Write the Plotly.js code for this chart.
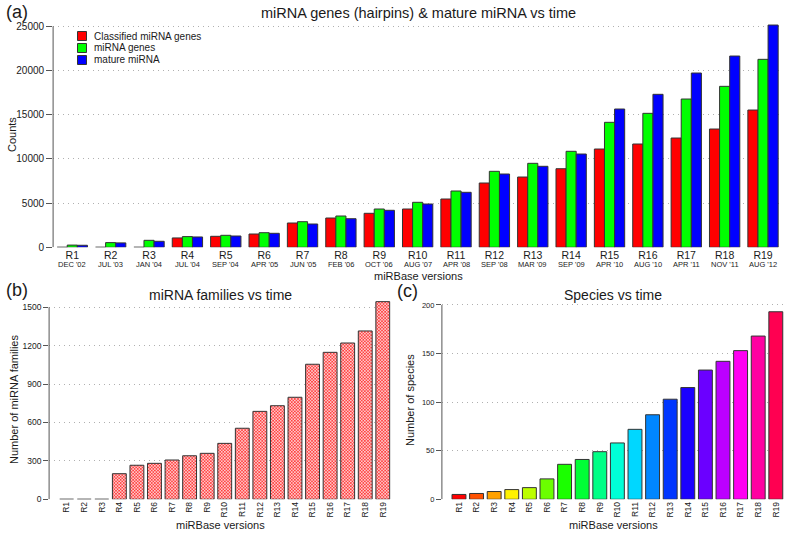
<!DOCTYPE html>
<html>
<head>
<meta charset="utf-8">
<script src="https://cdn.plot.ly/plotly-3.0.1.min.js"></script>
<style>html,body{margin:0;padding:0;background:#fff;}#chart{width:788px;height:533px;}</style>
</head>
<body>
<div id="chart"></div>
<script>
// ---------- data ----------
const versions = ['R1','R2','R3','R4','R5','R6','R7','R8','R9','R10','R11','R12','R13','R14','R15','R16','R17','R18','R19'];
const releaseDates = ["DEC '02","JUL '03","JAN '04","JUL '04","SEP '04","APR '05","JUN '05","FEB '06","OCT '06","AUG '07","APR '08","SEP '08","MAR '09","SEP '09","APR '10","AUG '10","APR '11","NOV '11","AUG '12"];
const classifiedGenes = [0,0,0,1060,1244,1505,2749,3314,3846,4333,5464,7274,7952,8891,11120,11686,12364,13382,15532];
const mirnaGenes = [250,530,790,1210,1357,1652,2896,3541,4333,5090,6369,8597,9502,10860,14140,15158,16776,18212,21267];
const matureMirna = [230,500,680,1170,1278,1584,2636,3235,4186,4898,6222,8292,9163,10554,15645,17308,19717,21640,25147];
const mirnaFamilies = [0,0,0,200,266,281,307,340,359,437,555,687,731,797,1055,1148,1221,1315,1544];
const speciesCount = [5,6,8,10,12,21,36,41,49,58,72,87,103,115,133,142,153,168,193];

const seriesNames = ['Classified miRNA genes','miRNA genes','mature miRNA'];
const seriesColors = ['#FF0000','#00FF00','#0000FF'];
const countsTicks = [0,5000,10000,15000,20000,25000];
const familyTicks = [0,300,600,900,1200,1500];
const speciesTicks = [0,50,100,150,200];

// ---------- helpers ----------
const W = 788, H = 533;
const px = x => x / W;
const py = y => 1 - y / H;
const FONT = 'Liberation Sans, Arial, sans-serif';
const TXT = '#1a1a1a';
const EDGE = '#333333';

// R rainbow(n)
function rainbow(n){
  const out = [];
  for(let i=0;i<n;i++){
    const h = i/n*6; const k = Math.floor(h); const f = h-k;
    let r,g,b;
    switch(k){
      case 0: r=1; g=f; b=0; break;
      case 1: r=1-f; g=1; b=0; break;
      case 2: r=0; g=1; b=f; break;
      case 3: r=0; g=1-f; b=1; break;
      case 4: r=f; g=0; b=1; break;
      default: r=1; g=0; b=1-f;
    }
    out.push('rgb('+Math.round(r*255)+','+Math.round(g*255)+','+Math.round(b*255)+')');
  }
  return out;
}

const topSeries = [classifiedGenes, mirnaGenes, matureMirna];
const traces = topSeries.map((vals,i)=>({
  type:'bar', x: versions, y: vals, name: seriesNames[i],
  xaxis:'x', yaxis:'y', showlegend:false,
  marker:{color: seriesColors[i], line:{color: EDGE, width:1}},
  hoverinfo:'x+y+name'
}));
traces.push({
  type:'bar', x: versions, y: mirnaFamilies, name:'miRNA families',
  xaxis:'x2', yaxis:'y2', showlegend:false,
  marker:{color:'#ffffff', pattern:{shape:'x', fgcolor:'#ff3535', bgcolor:'#ffffff', size:2.2, solidity:0.6}, line:{color: EDGE, width:1}}
});
traces.push({
  type:'bar', x: versions, y: speciesCount, name:'Species',
  xaxis:'x3', yaxis:'y3', showlegend:false,
  marker:{color: rainbow(versions.length), line:{color: EDGE, width:1}}
});

const gridStyle = {showgrid:true, gridcolor:'#b0b0b0', gridwidth:1, griddash:'1px,4px'};

// domains (pixel based)
const A = {x0:53.1, x1:782.2, yBottom:247.3, yTop:17.5};
const B = {x0:49.1, x1:390.7, yBottom:499.3, yTop:293.2};
const C = {x0:441.9, x1:784.6, yBottom:499.3, yTop:300.1};

const layout = {
  width: W, height: H,
  margin:{l:0,r:0,t:0,b:0},
  paper_bgcolor:'#ffffff', plot_bgcolor:'#ffffff',
  font:{family: FONT, color: TXT},
  showlegend:false,
  barmode:'group',
  bargap: 0.21, bargroupgap: 0,
  xaxis:{domain:[px(A.x0), px(A.x1)], type:'category', range:[-0.5, 18.5],
    tickvals: versions, ticktext: versions,
    ticks:'', showline:false, showgrid:false, zeroline:false,
    tickfont:{size:10.5, color:TXT}, anchor:'y', fixedrange:true},
  yaxis:Object.assign({domain:[py(A.yBottom), py(A.yTop)], range:[0, 26000],
    tickvals: countsTicks, ticktext: countsTicks.map(String),
    ticks:'outside', ticklen:6, tickcolor:'#555', showline:false, zeroline:false,
    tickfont:{size:10, color:TXT}, anchor:'x', fixedrange:true}, gridStyle),
  xaxis2:{domain:[px(B.x0), px(B.x1)], type:'category', range:[-1, 18.45],
    tickvals: versions, ticktext: versions, tickangle:-90,
    ticks:'', showline:false, showgrid:false, zeroline:false,
    tickfont:{size:8.5, color:TXT}, anchor:'y2', fixedrange:true},
  yaxis2:Object.assign({domain:[py(B.yBottom), py(B.yTop)], range:[0, 1610],
    tickvals: familyTicks, ticktext: familyTicks.map(String),
    ticks:'outside', ticklen:5, tickcolor:'#555', showline:false, zeroline:false,
    tickfont:{size:8.5, color:TXT}, anchor:'x2', fixedrange:true}, gridStyle),
  xaxis3:{domain:[px(C.x0), px(C.x1)], type:'category', range:[-0.97, 18.5],
    tickvals: versions, ticktext: versions, tickangle:-90,
    ticks:'', showline:false, showgrid:false, zeroline:false,
    tickfont:{size:8.5, color:TXT}, anchor:'y3', fixedrange:true},
  yaxis3:Object.assign({domain:[py(C.yBottom), py(C.yTop)], range:[0, 205],
    tickvals: speciesTicks, ticktext: speciesTicks.map(String),
    ticks:'outside', ticklen:5, tickcolor:'#555', showline:false, zeroline:false,
    tickfont:{size:7.5, color:TXT}, anchor:'x3', fixedrange:true}, gridStyle),
  shapes: [],
  annotations: []
};

// R-style axis lines that stop at the last tick
[['x domain','y',countsTicks],['x2 domain','y2',familyTicks],['x3 domain','y3',speciesTicks]].forEach(([xr,yr,t])=>{
  layout.shapes.push({type:'line', xref:xr, yref:yr, x0:0, x1:0, y0:t[0], y1:t[t.length-1], line:{color:'#555', width:1}, layer:'above'});
});

// release dates under the version labels (panel a)
versions.forEach((v,i)=>{
  layout.annotations.push({xref:'x', yref:'paper', x:v, y:py(264.5), text:releaseDates[i], showarrow:false,
    xanchor:'center', yanchor:'middle', font:{size:7.5, color:TXT}});
});

// legend (panel a)
const legendRows = [36, 48, 60];
seriesNames.forEach((n,i)=>{
  const cy = legendRows[i];
  layout.shapes.push({type:'rect', xref:'paper', yref:'paper', x0:px(77.5), x1:px(86.5), y0:py(cy+4.5), y1:py(cy-4.5),
    fillcolor: seriesColors[i], line:{color:EDGE, width:1}});
  layout.annotations.push({xref:'paper', yref:'paper', x:px(91.5), y:py(cy), xanchor:'left', yanchor:'middle',
    text:n, showarrow:false, font:{size:10, color:TXT}});
});

function ann(text, x, y, size, opts){
  layout.annotations.push(Object.assign({xref:'paper', yref:'paper', x:px(x), y:py(y), text:text, showarrow:false,
    xanchor:'center', yanchor:'middle', font:{size:size, color:TXT}}, opts||{}));
}
// panel letters
ann('(a)', 4, 12, 18, {xanchor:'left'});
ann('(b)', 4, 290, 18, {xanchor:'left'});
ann('(c)', 395, 291, 18, {xanchor:'left'});
// titles
ann('miRNA genes (hairpins) &amp; mature miRNA vs time', 418, 13, 14.5);
ann('miRNA families vs time', 220, 295, 14);
ann('Species vs time', 613, 295, 14);
// axis titles
ann('miRBase versions', 418, 276, 11);
ann('miRBase versions', 220, 525, 11);
ann('miRBase versions', 613, 525, 11);
ann('Counts', 12, 135, 11, {textangle:-90});
ann('Number of miRNA families', 14, 400, 11, {textangle:-90});
ann('Number of species', 410, 400, 11, {textangle:-90});

Plotly.newPlot('chart', traces, layout, {displayModeBar:false, staticPlot:true});
</script>
</body>
</html>
